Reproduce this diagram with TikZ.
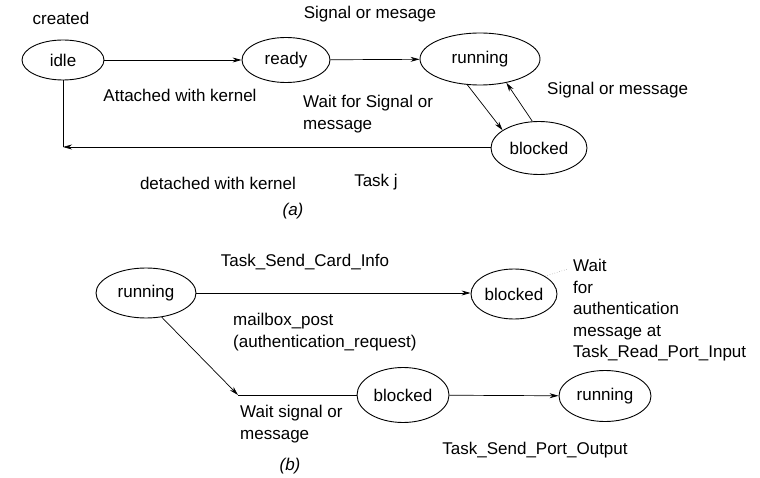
\documentclass[tikz,border=0pt]{standalone}
\usepackage{fontspec}
\setmainfont{Liberation Sans}
\usetikzlibrary{shapes.geometric,arrows.meta}
\begin{document}
\begin{tikzpicture}[x=1pt,y=-1pt,
  st/.style={draw, ellipse, line width=0.9pt, inner sep=0pt, font=\fontsize{17}{20}\selectfont},
  lbl/.style={font=\fontsize{17}{21.5}\selectfont, inner sep=0pt, align=left},
  arr/.style={line width=0.7pt, -{Stealth[length=9pt,width=5pt]}},
  ln/.style={line width=0.7pt}]
\useasboundingbox (0,0) rectangle (760,478);
% (a)
\node[lbl] (created) at (61,18) {created};
\node[st, minimum width=82pt, minimum height=40pt] (idle) at (63,60) {idle};
\node[st, minimum width=88pt, minimum height=45pt] (ready) at (286,60) {ready};
\node[st, minimum width=120pt, minimum height=52pt] (runA) at (480,59) {running};
\node[st, minimum width=96pt, minimum height=53pt] (blkA) at (539,148) {blocked};
\coordinate (corner) at (63,147);
\draw[arr] (idle) -- (ready);
\draw[arr] (ready) -- (runA);
\draw[arr] (runA.244) -- (blkA.154);
\draw[arr] (blkA.104) -- (runA.318);
\draw[arr] (blkA.west |- corner) -- (corner);
\draw[ln] (idle.south) -- (corner);
\node[lbl] (sig1) at (370,14) {Signal or mesage};
\node[lbl] (att) at (180,95) {Attached with kernel};
\node[lbl, anchor=west] (wait1) at (303,114) {Wait for Signal or\\message};
\node[lbl, anchor=west] (sig2) at (547,90) {Signal or message};
\node[lbl] (det) at (218,183) {detached with kernel};
\node[lbl] (taskj) at (376,182) {Task j};
\node[lbl] (capa) at (293,211) {\itshape(a)};
% (b)
\node[st, minimum width=100pt, minimum height=50pt] (runB) at (146,293) {running};
\node[st, minimum width=86pt, minimum height=50pt] (blkB) at (514,294) {blocked};
\node[st, minimum width=92pt, minimum height=55pt] (blkC) at (403,395) {blocked};
\node[st, minimum width=92pt, minimum height=51pt] (runC) at (605,396) {running};
\coordinate (mid) at (238,395);
\coordinate (waitpt) at (568,269);
\draw[arr] (runB) -- (blkB.west |- runB);
\draw[arr] (runB.303) -- (mid);
\draw[ln] (mid) -- (blkC.west);
\draw[arr] (blkC) -- (runC);
\draw[line width=0.5pt, dotted, gray] (blkB.30) -- (waitpt);
\node[lbl] (tscI) at (305,262) {Task\_Send\_Card\_Info};
\node[lbl, anchor=west] (mbx) at (233,332) {mailbox\_post\\(authentication\_request)};
\node[lbl, anchor=west] (wsig) at (240,424) {Wait signal or\\message};
\node[lbl, anchor=north west] (waitauth) at (573,259) {Wait\\for\\authentication\\message at\\Task\_Read\_Port\_Input};
\node[lbl] (tspo) at (535,450) {Task\_Send\_Port\_Output};
\node[lbl] (capb) at (290,466) {\itshape(b)};
\end{tikzpicture}
\end{document}
